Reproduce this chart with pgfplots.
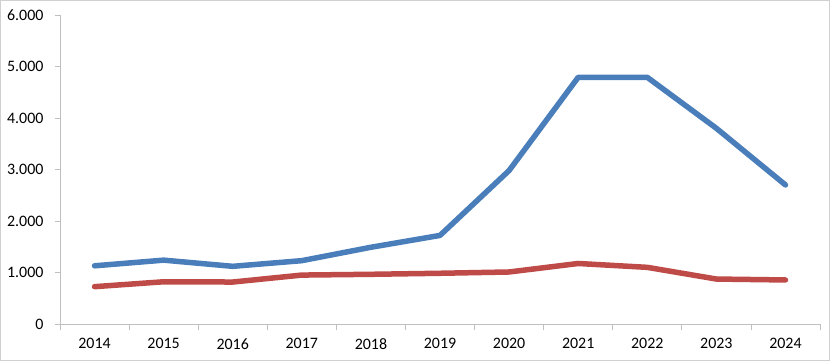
\documentclass[border=0pt]{standalone}
\usepackage{pgfplots}
\pgfplotsset{compat=1.18}
\usepackage{fontspec}
\setmainfont{Carlito}
\definecolor{xlblue}{HTML}{4A7EBB}
\definecolor{xlred}{HTML}{BE4B48}
\definecolor{axgray}{HTML}{BFBFBF}
\definecolor{framegray}{HTML}{D0D0D0}
\begin{document}
\begin{tikzpicture}[x=1bp,y=1bp]
\useasboundingbox (0,0) rectangle (830,361);
\draw[framegray, line width=1.2bp] (0.6,0.6) rectangle (829.4,360.4);
\begin{axis}[
  at={(60bp,37bp)}, anchor=south west,
  scale only axis, width=760bp, height=309bp,
  xmin=-0.5, xmax=10.5, ymin=0, ymax=6000,
  axis lines=left, axis line style={axgray, line width=0.8bp, -},
  xtick={0,...,10},
  xticklabels={2014,2015,2016,2017,2018,2019,2020,2021,2022,2023,2024},
  minor xtick={-0.5,0.5,...,10.5},
  ytick={0,1000,2000,3000,4000,5000,6000},
  yticklabels={0,1.000,2.000,3.000,4.000,5.000,6.000},
  tick align=outside,
  major tick length=5bp, minor tick length=6bp,
  x tick style={draw=none},
  minor x tick style={draw=axgray, line width=0.8bp},
  y tick style={draw=axgray, line width=0.8bp},
  tick label style={font=\fontsize{16}{19}\selectfont, black},
  xticklabel style={yshift=-6bp},
  yticklabel style={xshift=-8bp},
  clip=false,
]
\addplot[xlblue, line width=5.5bp, line cap=round, line join=round] coordinates {
 (0,1130) (1,1240) (2,1120) (3,1230) (4,1490) (5,1720) (6,2980) (7,4790) (8,4790) (9,3800) (10,2700)};
\addplot[xlred, line width=5.5bp, line cap=round, line join=round] coordinates {
 (0,725) (1,820) (2,815) (3,950) (4,965) (5,985) (6,1010) (7,1175) (8,1100) (9,873) (10,855)};
\end{axis}
\end{tikzpicture}
\end{document}
